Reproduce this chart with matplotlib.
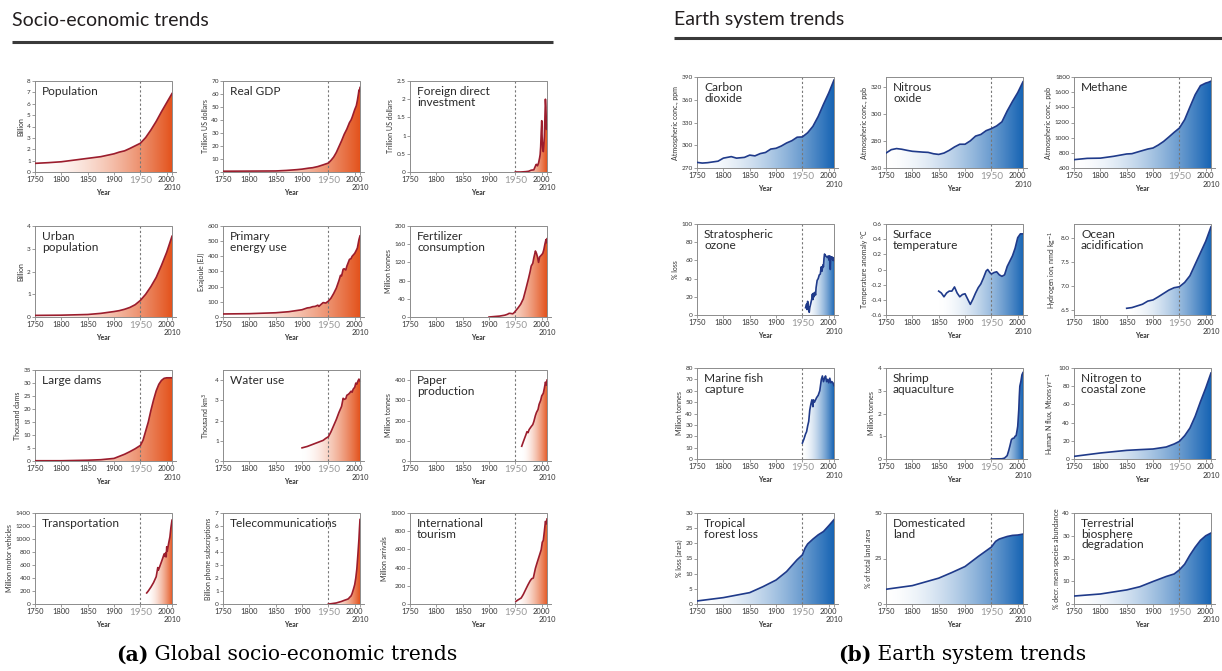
import numpy as np
import matplotlib.pyplot as plt
from matplotlib.patches import Polygon
from matplotlib.colors import to_rgb

plt.rcParams['font.family'] = ['Lato', 'DejaVu Sans']

# ---- socio-economic series ----
pop_years = [1750, 1775, 1800, 1825, 1850, 1875, 1900, 1910, 1920, 1930, 1940, 1950, 1960, 1970, 1980, 1990, 2000, 2010]
pop_vals = [0.76, 0.82, 0.9, 1.05, 1.2, 1.35, 1.6, 1.75, 1.86, 2.07, 2.3, 2.53, 3.03, 3.7, 4.45, 5.3, 6.1, 6.9]

gdp_years = [1750, 1800, 1850, 1870, 1890, 1900, 1913, 1920, 1930, 1940, 1945, 1950, 1955, 1960, 1965, 1970, 1975,
             1980, 1985, 1990, 1993, 1995, 2000, 2003, 2005, 2007, 2008, 2009, 2010]
gdp_vals = [0.6, 0.7, 0.8, 1.2, 1.8, 2.2, 3.0, 3.3, 4.2, 5.5, 6.2, 6.9, 9.0, 11.5, 15, 19.5, 24,
            29, 33, 38, 40, 42, 48, 51, 55, 60, 63, 62, 65]

fdi_years = [1950, 1960, 1970, 1975, 1980, 1985, 1987, 1988, 1989, 1990, 1992, 1994, 1996, 1997, 1998, 1999,
             2000, 2001, 2002, 2003, 2004, 2005, 2006, 2007, 2008, 2009, 2010]
fdi_vals = [0.0, 0.0, 0.01, 0.02, 0.05, 0.06, 0.13, 0.16, 0.2, 0.21, 0.17, 0.25, 0.39, 0.48, 0.69, 1.09,
            1.41, 0.83, 0.62, 0.56, 0.74, 0.98, 1.46, 2.0, 1.77, 1.17, 1.3]

urb_years = [1750, 1800, 1850, 1875, 1900, 1910, 1920, 1930, 1940, 1950, 1960, 1970, 1980, 1990, 2000, 2010]
urb_vals = [0.07, 0.08, 0.11, 0.16, 0.24, 0.28, 0.34, 0.42, 0.54, 0.73, 1.0, 1.34, 1.74, 2.27, 2.85, 3.55]

en_years = [1750, 1800, 1850, 1875, 1900, 1910, 1915, 1920, 1925, 1930, 1932, 1935, 1940, 1945, 1950, 1955,
            1960, 1965, 1970, 1973, 1975, 1978, 1980, 1983, 1985, 1990, 1993, 1995, 2000, 2003, 2005, 2008, 2010]
en_vals = [20, 22, 28, 35, 48, 60, 62, 68, 70, 78, 70, 80, 95, 92, 105, 125,
           155, 190, 240, 275, 270, 315, 318, 310, 335, 380, 385, 400, 420, 440, 455, 510, 535]

fert_years = [1900, 1910, 1920, 1925, 1930, 1935, 1938, 1940, 1945, 1948, 1950, 1955, 1960, 1965, 1970, 1975,
              1978, 1980, 1983, 1985, 1988, 1990, 1992, 1994, 1996, 2000, 2002, 2004, 2006, 2008, 2009, 2010]
fert_vals = [0, 1, 2, 3, 4, 6, 8, 8, 7, 10, 13, 20, 28, 40, 62, 85,
             100, 112, 118, 130, 145, 140, 132, 120, 132, 137, 140, 148, 160, 170, 163, 172]

dam_years = [1750, 1800, 1850, 1875, 1890, 1900, 1910, 1920, 1930, 1940, 1950, 1955, 1960, 1965, 1970, 1975,
             1980, 1985, 1990, 1995, 2000, 2005, 2010]
dam_vals = [0.1, 0.1, 0.3, 0.5, 0.8, 1.0, 1.8, 2.6, 3.6, 4.7, 6.0, 8.0, 11.5, 15, 19.5, 23.5,
            27, 29.5, 31, 31.8, 32, 32, 32]

wat_years = [1900, 1910, 1920, 1930, 1940, 1945, 1950, 1955, 1960, 1965, 1970, 1975, 1978, 1980, 1983, 1985,
             1988, 1990, 1993, 1995, 1997, 2000, 2002, 2004, 2006, 2008, 2010]
wat_vals = [0.65, 0.72, 0.82, 0.92, 1.02, 1.12, 1.2, 1.45, 1.75, 2.05, 2.4, 2.7, 3.1, 3.05, 3.08, 3.25,
            3.3, 3.35, 3.45, 3.4, 3.55, 3.65, 3.85, 3.8, 3.95, 4.05, 3.95]

pap_years = [1962, 1965, 1970, 1972, 1974, 1976, 1980, 1983, 1985, 1988, 1990, 1993, 1995, 1998, 2000, 2003,
             2005, 2007, 2009, 2010]
pap_vals = [73, 95, 130, 145, 140, 155, 170, 180, 195, 225, 240, 255, 280, 300, 322, 335,
            360, 390, 375, 400]

veh_years = [1962, 1965, 1970, 1975, 1980, 1983, 1984, 1986, 1990, 1993, 1995, 1997, 1998, 1999, 2000, 2001,
             2002, 2004, 2006, 2008, 2010]
veh_vals = [170, 200, 260, 330, 420, 560, 520, 560, 650, 720, 770, 730, 790, 725, 880, 810,
            860, 950, 1030, 1180, 1290]

tel_years = [1950, 1955, 1960, 1965, 1970, 1975, 1980, 1985, 1988, 1990, 1993, 1995, 1998, 2000, 2002, 2004,
             2006, 2008, 2009, 2010]
tel_vals = [0.0, 0.02, 0.05, 0.08, 0.14, 0.2, 0.28, 0.35, 0.4, 0.5, 0.62, 0.8, 1.2, 1.5, 2.0, 2.7,
            3.8, 5.0, 5.8, 6.5]

tour_years = [1951, 1955, 1961, 1965, 1970, 1974, 1978, 1981, 1984, 1988, 1991, 1994, 1997, 1999, 2001, 2003,
              2005, 2007, 2009, 2010]
tour_vals = [29, 45, 66, 105, 165, 212, 255, 278, 285, 392, 450, 505, 560, 597, 678, 700,
             800, 908, 880, 934]

# ---- earth system series ----
co2_years = [1750, 1760, 1770, 1780, 1790, 1800, 1815, 1825, 1840, 1850, 1860, 1870, 1880, 1890, 1900, 1910,
             1920, 1930, 1940, 1950, 1960, 1970, 1980, 1990, 2000, 2010]
co2_vals = [277.4, 276.5, 277, 278, 279, 283, 285, 283, 284, 287, 286, 289, 290.5, 295, 296, 299,
            303, 306, 310.6, 311, 316.5, 325, 338, 354, 369, 386]

n2o_years = [1750, 1760, 1770, 1780, 1790, 1800, 1810, 1820, 1830, 1840, 1850, 1860, 1870, 1880, 1890, 1900,
             1910, 1920, 1930, 1940, 1950, 1960, 1970, 1980, 1990, 2000, 2010]
n2o_vals = [271, 273.5, 274.3, 273.8, 273, 272.3, 272, 271.7, 271.5, 270.5, 270, 271, 273, 275.5, 277.5, 277.5,
            280, 283.5, 284.7, 287.5, 289, 291, 294, 302, 309, 315.5, 323.5]

ch4_years = [1750, 1775, 1800, 1825, 1850, 1860, 1875, 1890, 1900, 1910, 1920, 1930, 1940, 1950, 1960, 1970,
             1980, 1990, 2000, 2005, 2010]
ch4_vals = [710, 727, 730, 754, 785, 789, 820, 850, 864, 903, 950, 1009, 1070, 1127, 1237, 1404,
            1567, 1686, 1720, 1730, 1745]

oz_years = [1956, 1958, 1959, 1960, 1961, 1962, 1963, 1964, 1966, 1968, 1969, 1970, 1971, 1972, 1974, 1975,
            1976, 1978, 1980, 1982, 1984, 1985, 1986, 1987, 1988, 1989, 1990, 1991, 1992, 1994, 1996, 1998,
            1999, 2000, 2001, 2002, 2003, 2004, 2005, 2006, 2007, 2008, 2009, 2010]
oz_vals = [8, 12, 6, 15, 7, 9, 3, 8, 13, 18, 23, 17, 24, 20, 25, 22,
           30, 38, 40, 44, 45, 50, 53, 48, 51, 55, 53, 62, 67, 65, 64, 63,
           65, 63, 60, 65, 50, 64, 62, 64, 63, 60, 63, 60]

tmp_years = [1850, 1855, 1860, 1865, 1870, 1875, 1880, 1885, 1890, 1895, 1900, 1905, 1910, 1915, 1920, 1925,
             1930, 1935, 1940, 1943, 1947, 1950, 1955, 1960, 1965, 1970, 1975, 1980, 1985, 1990, 1995, 2000,
             2005, 2010]
tmp_vals = [-0.285, -0.31, -0.36, -0.31, -0.285, -0.285, -0.23, -0.31, -0.36, -0.33, -0.32, -0.39, -0.46, -0.39,
            -0.31, -0.24, -0.19, -0.11, -0.02, 0.0, -0.04, -0.06, -0.04, -0.03, -0.07, -0.09, -0.07, 0.04,
            0.11, 0.18, 0.28, 0.42, 0.47, 0.47]

oce_years = [1850, 1860, 1870, 1880, 1890, 1900, 1910, 1920, 1930, 1940, 1950, 1960, 1970, 1980, 1990, 2000, 2010]
oce_vals = [6.54, 6.555, 6.59, 6.625, 6.69, 6.715, 6.78, 6.85, 6.92, 6.97, 6.99, 7.08, 7.22, 7.46, 7.7, 7.94, 8.24]

fish_years = [1950, 1953, 1956, 1958, 1960, 1962, 1964, 1966, 1968, 1970, 1971, 1973, 1975, 1977, 1980, 1983,
              1986, 1988, 1990, 1992, 1994, 1996, 1998, 2000, 2002, 2004, 2006, 2008, 2010]
fish_vals = [14, 17.6, 22, 24, 29, 33, 43, 48, 52, 46, 52, 50, 52, 54, 56, 60,
             70, 73, 68, 71, 73, 68, 70, 67, 71, 67, 68, 67, 64.5]

shr_years = [1950, 1970, 1975, 1980, 1983, 1985, 1988, 1990, 1993, 1995, 1997, 1999, 2000, 2002, 2003, 2004,
             2006, 2008, 2010]
shr_vals = [0.0, 0.01, 0.04, 0.15, 0.38, 0.56, 0.85, 0.9, 0.92, 1.0, 1.03, 1.29, 1.44, 2.17, 2.75, 3.2,
            3.41, 3.7, 3.8]

nit_years = [1750, 1800, 1850, 1875, 1900, 1925, 1940, 1950, 1960, 1970, 1980, 1990, 2000, 2010]
nit_vals = [2.9, 6.6, 9.5, 10.3, 11, 13.2, 16.5, 19.4, 25.6, 34, 47, 63, 78, 94.5]

for_years = [1750, 1800, 1850, 1875, 1900, 1920, 1940, 1950, 1955, 1960, 1965, 1970, 1980, 1990, 2000, 2010]
for_vals = [1.0, 2.1, 3.75, 5.7, 7.9, 10.7, 14.6, 16.2, 18.4, 19.8, 20.6, 21.4, 22.8, 23.9, 25.8, 27.8]

land_years = [1750, 1800, 1850, 1875, 1900, 1925, 1950, 1958, 1965, 1980, 1990, 2000, 2010]
land_vals = [8.1, 10.1, 14.2, 17.3, 20.6, 26.1, 31.3, 34.4, 35.7, 37.1, 37.7, 37.9, 38.4]

bio_years = [1750, 1800, 1850, 1875, 1900, 1925, 1940, 1950, 1960, 1970, 1980, 1990, 2000, 2010]
bio_vals = [3.5, 4.4, 6.2, 7.6, 9.9, 12.1, 13.2, 15.0, 17.5, 21.5, 25.0, 28.0, 30.0, 31.2]

RED_LINE, RED_FILL = '#9b1d2d', '#e3531d'
BLUE_LINE, BLUE_FILL = '#1f3a8a', '#1764b4'
FRAME = '#8c8c8c'

W, H = 1222, 671
fig = plt.figure(figsize=(W / 100, H / 100), dpi=100)
AX_W = 137 / 260 * 267   # px for 1750..2017
AX_H = 91


def draw_panel(left, top, title, ylabel, years, vals, ylim, yticks, line_c, fill_c, fmt='{:g}'):
    ax = fig.add_axes([left / W, 1 - (top + AX_H) / H, AX_W / W, AX_H / H])
    y0, y1 = ylim
    # white -> colour gradient under the curve
    t = np.linspace(0, 1, 256) ** 1.7
    c = np.array(to_rgb(fill_c))
    grad = (1 - t)[:, None] * np.ones(3) + t[:, None] * c
    im = ax.imshow(grad[None, :, :], extent=[years[0], years[-1], y0, y1],
                   aspect='auto', interpolation='bilinear', zorder=1)
    poly = Polygon([(years[0], y0)] + list(zip(years, vals)) + [(years[-1], y0)],
                   closed=True, fc='none', ec='none')
    ax.add_patch(poly)
    im.set_clip_path(poly)
    ax.plot([1950, 1950], [y0, y1], color='#777777', lw=0.8, ls=(0, (2, 2)), zorder=2)
    ax.plot(years, vals, color=line_c, lw=1.2, zorder=3, solid_joinstyle='round')
    ax.set_xlim(1750, 2017)
    ax.set_ylim(y0, y1)

    for s in ['top', 'right']:
        ax.spines[s].set_visible(False)
    for s in ['left', 'bottom']:
        ax.spines[s].set_color(FRAME)
        ax.spines[s].set_linewidth(0.7)
    ax.plot([1750, 2010, 2010], [y1, y1, y0], color=FRAME, lw=0.7, clip_on=False, zorder=4)

    ax.set_xticks([1750, 1800, 1850, 1900, 1950, 2000, 2010])
    ax.set_xticklabels(['1750', '1800', '1850', '1900', '1950', '2000', ''])
    ax.set_yticks(yticks)
    ax.set_yticklabels([fmt.format(v) for v in yticks])
    ax.tick_params(length=2, width=0.6, color=FRAME, pad=1, labelcolor='#333333')
    ax.tick_params(axis='x', labelsize=5.4)
    ax.tick_params(axis='y', labelsize=4.6)
    for lbl in ax.get_xticklabels():
        if lbl.get_text() == '1950':
            lbl.set_color('#9a9a9a')
            lbl.set_fontsize(7.2)
    ax.annotate('2010', xy=(2010, 0), xycoords=('data', 'axes fraction'), xytext=(0, -9),
                textcoords='offset points', ha='center', va='top', fontsize=5.4, color='#333333')
    ax.set_xlabel('Year', fontsize=5, fontweight='bold', color='#333333')
    ax.xaxis.set_label_coords(130 / 267, -0.19)
    ax.set_ylabel(ylabel, fontsize=5, color='#333333', labelpad=2)
    ax.text(0.05, 0.94, title, transform=ax.transAxes, ha='left', va='top',
            fontsize=8.6, color='#2a2a2a', linespacing=0.92)
    return ax


socio = [
    ('Population', 'Billion', pop_years, pop_vals, (0, 8), range(0, 9)),
    ('Real GDP', 'Trillion US dollars', gdp_years, gdp_vals, (0, 70), range(0, 71, 10)),
    ('Foreign direct\ninvestment', 'Trillion US dollars', fdi_years, fdi_vals, (0, 2.5), [0, 0.5, 1, 1.5, 2, 2.5]),
    ('Urban\npopulation', 'Billion', urb_years, urb_vals, (0, 4), range(0, 5)),
    ('Primary\nenergy use', 'Exajoule (EJ)', en_years, en_vals, (0, 600), range(0, 601, 100)),
    ('Fertilizer\nconsumption', 'Million tonnes', fert_years, fert_vals, (0, 200), range(0, 201, 40)),
    ('Large dams', 'Thousand dams', dam_years, dam_vals, (0, 35), range(0, 36, 5)),
    ('Water use', 'Thousand km$^3$', wat_years, wat_vals, (0, 4.5), range(0, 5)),
    ('Paper\nproduction', 'Million tonnes', pap_years, pap_vals, (0, 450), range(0, 401, 100)),
    ('Transportation', 'Million motor vehicles', veh_years, veh_vals, (0, 1400), range(0, 1401, 200)),
    ('Telecommunications', 'Billion phone subscriptions', tel_years, tel_vals, (0, 7), range(0, 8)),
    ('International\ntourism', 'Million arrivals', tour_years, tour_vals, (0, 1000), range(0, 1001, 200)),
]

earth = [
    ('Carbon\ndioxide', 'Atmospheric conc., ppm', co2_years, co2_vals, (270, 390), range(270, 391, 30), '{:g}'),
    ('Nitrous\noxide', 'Atmospheric conc., ppb', n2o_years, n2o_vals, (260, 327), range(260, 321, 20), '{:g}'),
    ('Methane', 'Atmospheric conc., ppb', ch4_years, ch4_vals, (600, 1800), range(600, 1801, 200), '{:g}'),
    ('Stratospheric\nozone', '% loss', oz_years, oz_vals, (0, 100), range(0, 101, 20), '{:g}'),
    ('Surface\ntemperature', 'Temperature anomaly °C', tmp_years, tmp_vals, (-0.6, 0.6),
     [-0.6, -0.4, -0.2, 0, 0.2, 0.4, 0.6], '{:g}'),
    ('Ocean\nacidification', 'Hydrogen ion, nmol kg$^{-1}$', oce_years, oce_vals, (6.4, 8.3),
     [6.5, 7.0, 7.5, 8.0], '{:.1f}'),
    ('Marine fish\ncapture', 'Million tonnes', fish_years, fish_vals, (0, 80), range(0, 81, 10), '{:g}'),
    ('Shrimp\naquaculture', 'Million tonnes', shr_years, shr_vals, (0, 4), range(0, 5), '{:g}'),
    ('Nitrogen to\ncoastal zone', 'Human N flux, Mtons yr$^{-1}$', nit_years, nit_vals, (0, 100),
     range(0, 101, 20), '{:g}'),
    ('Tropical\nforest loss', '% loss (area)', for_years, for_vals, (0, 30), range(0, 31, 5), '{:g}'),
    ('Domesticated\nland', '% of total land area', land_years, land_vals, (0, 50), [0, 25, 50], '{:g}'),
    ('Terrestrial\nbiosphere\ndegradation', '% decr. mean species abundance', bio_years, bio_vals, (0, 40),
     range(0, 41, 10), '{:g}'),
]

left_cols, left_rows = [35, 223, 410], [81, 226, 370, 513]
right_cols, right_rows = [697, 886, 1074], [77, 224, 368, 513]

for i, (title, ylab, yrs, vals, ylim, yt) in enumerate(socio):
    draw_panel(left_cols[i % 3], left_rows[i // 3], title, ylab, yrs, vals, ylim, list(yt), RED_LINE, RED_FILL)

for i, (title, ylab, yrs, vals, ylim, yt, fmt) in enumerate(earth):
    draw_panel(right_cols[i % 3], right_rows[i // 3], title, ylab, yrs, vals, ylim, list(yt),
               BLUE_LINE, BLUE_FILL, fmt)

# headings, rules and captions in pixel coordinates
bg = fig.add_axes([0, 0, 1, 1], zorder=-1)
bg.set_xlim(0, W)
bg.set_ylim(H, 0)
bg.axis('off')

bg.text(12, 21, 'Socio-economic trends', fontsize=14, va='center', ha='left', color='#231f20')
bg.plot([12, 553], [41.5, 41.5], color='#3a3a3a', lw=2.2, solid_capstyle='butt')
bg.text(674, 19, 'Earth system trends', fontsize=14, va='center', ha='left', color='#231f20')
bg.plot([674, 1222], [37.5, 37.5], color='#3a3a3a', lw=2.2, solid_capstyle='butt')

serif = ['DejaVu Serif']
a = bg.text(116, 655, '(a)', fontsize=14.6, fontweight='bold', family=serif, va='center', ha='left')
bg.annotate(' Global socio-economic trends', xy=(1, 0.5), xycoords=a, va='center', ha='left',
            fontsize=14.6, family=serif)
b = bg.text(838, 655, '(b)', fontsize=14.6, fontweight='bold', family=serif, va='center', ha='left')
bg.annotate(' Earth system trends', xy=(1, 0.5), xycoords=b, va='center', ha='left',
            fontsize=14.6, family=serif)

fig.savefig('out.png', dpi=100)
